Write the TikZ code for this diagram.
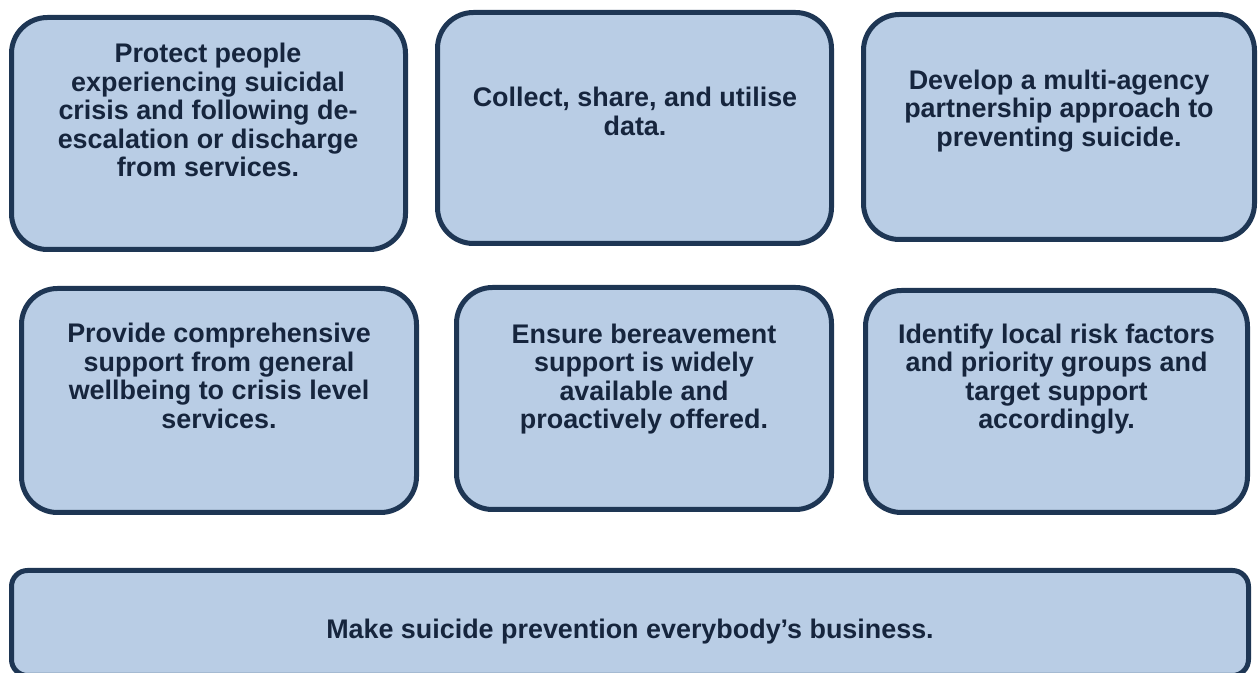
\documentclass[tikz,border=0pt]{standalone}
\usepackage{xcolor}
\usepackage{fontspec}
\setmainfont{Liberation Sans}
\usepackage{tikz}

\definecolor{goalfill}{HTML}{B9CDE5}
\definecolor{goalline}{HTML}{1E3654}
\definecolor{goalink}{HTML}{16253D}

\begin{document}
\begin{tikzpicture}[x=0.5pt, y=-0.5pt]
    % Define node styles
    \tikzstyle{goal} = [draw=goalline, fill=goalfill, line width=2.5pt, rounded corners=18pt, inner sep=0pt]
    \tikzstyle{wide} = [goal, rounded corners=8pt]
    \tikzstyle{goaltext} = [align=center, inner sep=0pt, text=goalink, font=\fontsize{13.45}{14.25}\selectfont\bfseries]

    \useasboundingbox (0,0) rectangle (1260,673);

    % Boxes - top row
    \node[goal, minimum width=197pt, minimum height=116pt] (protect) at (208.5,133.5) {};
    \node[goal, minimum width=197pt, minimum height=115.5pt] (data) at (634.5,128) {};
    \node[goal, minimum width=195.5pt, minimum height=112.5pt] (partner) at (1059,127) {};

    % Boxes - middle row
    \node[goal, minimum width=197.5pt, minimum height=112pt] (support) at (219,400.5) {};
    \node[goal, minimum width=187.5pt, minimum height=111pt] (bereave) at (644,398.5) {};
    \node[goal, minimum width=191pt, minimum height=111pt] (risk) at (1056.5,401.5) {};

    % Wide box along the bottom
    \node[wide, minimum width=618.5pt, minimum height=52.5pt] (business) at (630,623) {};

    % Texts
    \node[goaltext] (protect-txt) at (208,110) {Protect people\\experiencing suicidal\\crisis and following de-\\escalation or discharge\\from services.};
    \node[goaltext] (data-txt) at (635,111.5) {Collect, share, and utilise\\data.};
    \node[goaltext] (partner-txt) at (1059,111) {Develop a multi-agency\\partnership approach to\\preventing suicide.};
    \node[goaltext] (support-txt) at (219,376) {Provide comprehensive\\support from general\\wellbeing to crisis level\\services.};
    \node[goaltext] (bereave-txt) at (644,379) {Ensure bereavement\\support is widely\\available and\\proactively offered.};
    \node[goaltext] (risk-txt) at (1056.5,379) {Identify local risk factors\\and priority groups and\\target support\\accordingly.};
    \node[goaltext] (business-txt) at (630,632) {Make suicide prevention everybody’s business.};
\end{tikzpicture}
\end{document}
